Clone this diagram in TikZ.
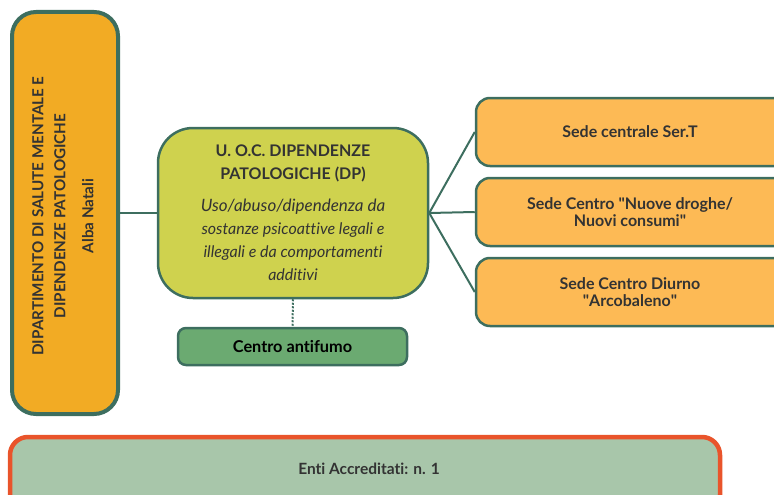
\documentclass[tikz,border=0pt]{standalone}
\usepackage{fontspec}
\setmainfont{Lato}[Ligatures={TeX,NoCommon}]
\definecolor{edgegreen}{HTML}{3D6E5F}
\definecolor{deptfill}{HTML}{F2AB24}
\definecolor{uocfill}{HTML}{CFD24E}
\definecolor{sedefill}{HTML}{FDBA55}
\definecolor{smokefill}{HTML}{6BAA71}
\definecolor{entifill}{HTML}{A8C6AA}
\definecolor{entiedge}{HTML}{E9542B}
\definecolor{ink}{HTML}{333333}
\tikzset{
  box/.style={draw=edgegreen, line width=2.5pt, inner sep=0pt, align=center, text=ink},
  sede/.style={box, fill=sedefill, minimum width=314pt, minimum height=68pt, rounded corners=14pt},
  sedetxt/.style={align=center, text=ink, font=\bfseries\fontsize{16}{17}\selectfont},
  link/.style={draw=edgegreen, line width=2pt},
}
\begin{document}
\begin{tikzpicture}[x=1pt,y=-1pt]
\useasboundingbox (0,0) rectangle (774,495);
\clip (0,0) rectangle (774,495);
% department box
\node[box, line width=4pt, fill=deptfill, minimum width=106pt, minimum height=402pt, rounded corners=24pt] (dept) at (65,213) {};
\node[rotate=90, align=center, text=ink, font=\bfseries\fontsize{15.2}{22}\selectfont] (depttxt) at (63,216)
  {DIPARTIMENTO DI SALUTE MENTALE E\\DIPENDENZE PATOLOGICHE\\[6pt]Alba Natali};
% U.O.C. box
\node[box, fill=uocfill, minimum width=270pt, minimum height=170pt, rounded corners=35pt] (uoc) at (293,213) {};
\node[align=center, text=ink, font=\fontsize{16}{23}\selectfont] (uoctxt) at (293,213)
  {\bfseries U. O.C. DIPENDENZE\\\bfseries PATOLOGICHE (DP)\\[9pt]
   \fontsize{17}{21}\selectfont\itshape Uso/abuso/dipendenza da\\\itshape sostanze psicoattive legali e\\\itshape illegali e da comportamenti\\\itshape additivi};
% sedi
\node[sede] (s1) at (633,132) {};
\node[sede] (s2) at (633,212) {};
\node[sede] (s3) at (633,292) {};
\node[sedetxt] (s1t) at (630,132) {Sede centrale Ser.T};
\node[sedetxt] (s2t) at (630,212) {Sede Centro \textquotedbl Nuove droghe/\\Nuovi consumi\textquotedbl};
\node[sedetxt] (s3t) at (630,292) {Sede Centro Diurno\\\textquotedbl Arcobaleno\textquotedbl};
% centro antifumo
\node[box, fill=smokefill, minimum width=229pt, minimum height=37pt, rounded corners=8pt, text=black, font=\bfseries\fontsize{16.3}{18}\selectfont] (smoke) at (292.5,346.5) {Centro antifumo};
% enti accreditati
\node[draw=entiedge, line width=4.5pt, fill=entifill, minimum width=710pt, minimum height=76pt, rounded corners=18pt] (enti) at (365,475) {};
\node[text=ink, font=\bfseries\fontsize{15.5}{17}\selectfont] (entitxt) at (369,469) {Enti Accreditati: n. 1};
% connectors
\draw[link] (dept.east) -- (uoc.west);
\coordinate (hub) at (uoc.east);
\draw[link] (hub) -- (s1.west);
\draw[link] (hub) -- (s2.west);
\draw[link] (hub) -- (s3.west);
\draw[edgegreen, line width=2pt, dash pattern=on 2pt off 1.5pt] (uoc.south) -- (smoke.north);
\end{tikzpicture}
\end{document}
